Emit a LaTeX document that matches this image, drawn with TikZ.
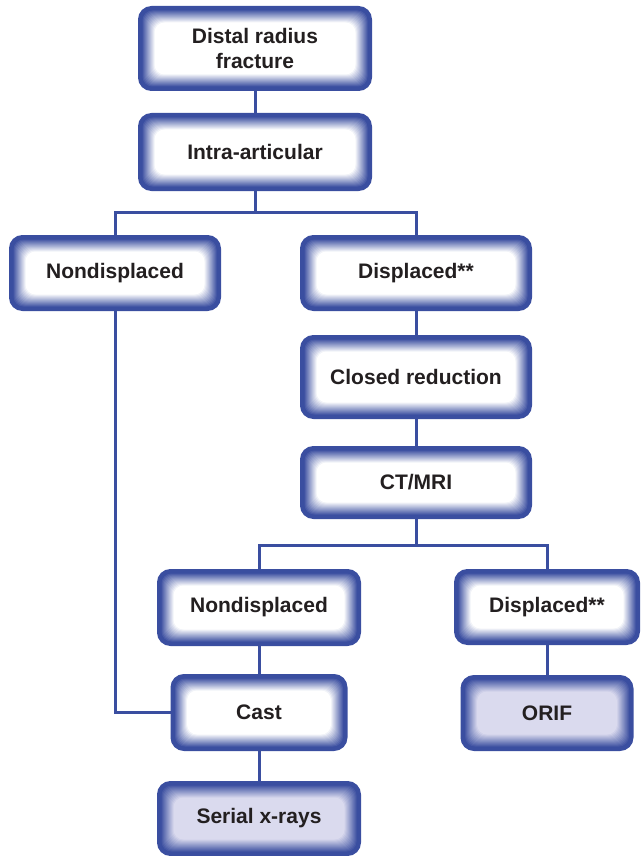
\documentclass[tikz,border=0pt]{standalone}
\usepackage{fontspec}
\setmainfont{Liberation Sans}
\usepackage{tikz}
\usetikzlibrary{positioning,calc}
\definecolor{myblue}{RGB}{58,78,160}
\definecolor{mylavender}{RGB}{218,218,238}
\definecolor{mytext}{RGB}{35,31,32}
% rounded box with a soft blue rim fading into the fill
\tikzset{
  box/.style={draw=myblue, line width=3pt, rounded corners=12pt, fill=#1,
    text=mytext, font=\bfseries\fontsize{21}{25}\selectfont, align=center, inner sep=0pt,
    path picture={
      \foreach \d [evaluate=\d as \c using {int(max(0,min(100,100-(\d-2)*100/13)))}] in {0,...,16}
        \fill[myblue!\c!#1, rounded corners=10pt]
          ($(path picture bounding box.south west)+(\d,-\d)$) rectangle
          ($(path picture bounding box.north east)+(-\d,\d)$);
    }},
  box/.default=white,
  link/.style={draw=myblue, line width=3pt}
}

\begin{document}
\begin{tikzpicture}[x=1pt,y=-1pt]
\useasboundingbox (0,0) rectangle (640,856);
\node[box, minimum width=231, minimum height=82] (frac) at (255,48.5) {Distal radius\\fracture};
\node[box, minimum width=231, minimum height=75] (intra) at (255,152) {Intra-articular};
\node[box, minimum width=209, minimum height=73] (ndA) at (115,273) {Nondisplaced};
\node[box, minimum width=229, minimum height=73] (dspA) at (416,273) {Displaced**};
\node[box, minimum width=229, minimum height=81] (closed) at (416,377) {Closed reduction};
\node[box, minimum width=229, minimum height=70] (ctmri) at (416,482.5) {CT/MRI};
\node[box, minimum width=201, minimum height=74] (ndB) at (259,607.5) {Nondisplaced};
\node[box, minimum width=183, minimum height=73] (dspB) at (547,607) {Displaced**};
\node[box, minimum width=174, minimum height=74] (cast) at (259,712.5) {Cast};
\node[box=mylavender, minimum width=170, minimum height=73] (orif) at (547,713) {ORIF};
\node[box=mylavender, minimum width=201, minimum height=72] (xray) at (259,818.5) {Serial x-rays};

\draw[link] (frac) -- (intra);
\draw[link] (intra.south) -- ++(0,21) -| (ndA.north);
\draw[link] (intra.south) -- ++(0,21) -| (dspA.north);
\draw[link] (ndA.south) |- (cast.west);
\draw[link] (dspA) -- (closed);
\draw[link] (closed) -- (ctmri);
\draw[link] (ctmri.south) -- ++(0,26) -| (ndB.north);
\draw[link] (ctmri.south) -- ++(0,26) -| (dspB.north);
\draw[link] (ndB) -- (cast);
\draw[link] (cast) -- (xray);
\draw[link] (dspB) -- (orif);
\end{tikzpicture}
\end{document}
